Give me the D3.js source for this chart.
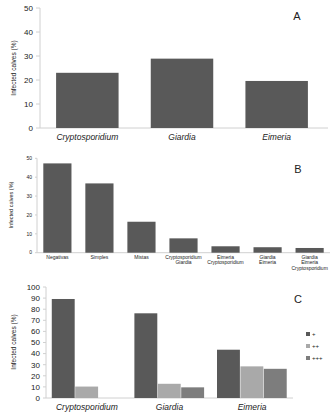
<!DOCTYPE html>
<html><head><meta charset="utf-8">
<script src="https://cdn.jsdelivr.net/npm/d3@7"></script>
<style>body{margin:0;background:#fff}svg{display:block}text{font-family:"Liberation Sans",Arial,sans-serif;fill:#222}</style>
</head><body><svg id="c" width="335" height="412"></svg>
<script>
// Panel A
const catsA = ["Cryptosporidium","Giardia","Eimeria"];
const valsA = [23.0, 28.9, 19.6];
const ticksA = [0,10,20,30,40,50];
// Panel B
const catsB = [["Negativas"],["Simples"],["Mistas"],["Cryptosporidium","Giardia"],["Eimeria","Cryptosporidium"],["Giardia","Eimeria"],["Giardia","Eimeria","Cryptosporidium"]];
const valsB = [47.3, 36.7, 16.4, 7.6, 3.4, 2.9, 2.5];
const ticksB = [0,10,20,30,40,50];
// Panel C
const catsC = ["Cryptosporidium","Giardia","Eimeria"];
const seriesC = ["+","++","+++"];
const plus1 = [89.2, 76.3, 43.5];
const plus2 = [10.3, 12.8, 28.5];
const plus3 = [0, 9.6, 26.3];
const ticksC = [0,10,20,30,40,50,60,70,80,90,100];
const yTitle = "Infected calves (%)";

const svg = d3.select("#c");
const axisCol = "#d0d0d0", dark = "#595959";
const colC = {"+":"#595959","++":"#a9a9a9","+++":"#7d7d7d"};

function yAxis(g, y, ticks, x0, fs, tickLen){
  g.append("line").attr("x1",x0).attr("x2",x0).attr("y1",y(ticks[ticks.length-1])).attr("y2",y(0)).attr("stroke",axisCol);
  ticks.forEach(t=>{
    g.append("line").attr("x1",x0-tickLen).attr("x2",x0).attr("y1",y(t)).attr("y2",y(t)).attr("stroke",axisCol);
    g.append("text").attr("x",x0-tickLen-3).attr("y",y(t)).attr("dy","0.35em").attr("text-anchor","end").attr("font-size",fs).text(t);
  });
}
function title(g,x,y,fs){
  g.append("text").attr("transform",`translate(${x},${y}) rotate(-90)`).attr("text-anchor","middle").attr("font-size",fs).text(yTitle);
}

// ---- A
{
  const g = svg.append("g");
  const x = d3.scaleBand().domain(catsA).range([40,324]).paddingInner(0.34).paddingOuter(0.17);
  const y = d3.scaleLinear().domain([0,50]).range([128,8]);
  g.append("line").attr("x1",40).attr("x2",328).attr("y1",y(0)).attr("y2",y(0)).attr("stroke",axisCol);
  yAxis(g,y,ticksA,40,8,4);
  g.selectAll("rect").data(valsA).join("rect").attr("x",(d,i)=>x(catsA[i])).attr("width",x.bandwidth())
    .attr("y",d=>y(d)).attr("height",d=>y(0)-y(d)).attr("fill",dark);
  catsA.forEach(c=>g.append("text").attr("x",x(c)+x.bandwidth()/2).attr("y",140).attr("text-anchor","middle").attr("font-size",8.5).attr("font-style","italic").text(c));
  title(g,16,68,6.5);
  g.append("text").attr("x",297).attr("y",20).attr("text-anchor","middle").attr("font-size",11).text("A");
}
// ---- B
{
  const g = svg.append("g");
  const keys = catsB.map(d=>d.join(" "));
  const x = d3.scaleBand().domain(keys).range([37,330]).paddingInner(0.33).paddingOuter(0.15);
  const y = d3.scaleLinear().domain([0,50]).range([252.7,158.3]);
  g.append("line").attr("x1",37).attr("x2",330).attr("y1",y(0)).attr("y2",y(0)).attr("stroke",axisCol);
  yAxis(g,y,ticksB,37,5,2);
  g.selectAll("rect").data(valsB).join("rect").attr("x",(d,i)=>x(keys[i])).attr("width",x.bandwidth())
    .attr("y",d=>y(d)).attr("height",d=>y(0)-y(d)).attr("fill",dark);
  catsB.forEach((c,i)=>{
    const t = g.append("text").attr("x",x(keys[i])+x.bandwidth()/2).attr("y",259).attr("text-anchor","middle").attr("font-size",5);
    c.forEach((l,j)=>t.append("tspan").attr("x",x(keys[i])+x.bandwidth()/2).attr("dy",j?5.3:0).text(l));
  });
  title(g,13,205,5.5);
  g.append("text").attr("x",298).attr("y",173).attr("text-anchor","middle").attr("font-size",11).text("B");
}
// ---- C
{
  const g = svg.append("g");
  const x0 = d3.scaleBand().domain(catsC).range([46,293]).paddingInner(0.15).paddingOuter(0.07);
  const x1 = d3.scaleBand().domain(seriesC).range([0,x0.bandwidth()]);
  const y = d3.scaleLinear().domain([0,100]).range([398,287]);
  g.append("line").attr("x1",46).attr("x2",293).attr("y1",y(0)).attr("y2",y(0)).attr("stroke",axisCol);
  yAxis(g,y,ticksC,46,8,3);
  const vals = {"+":plus1,"++":plus2,"+++":plus3};
  seriesC.forEach(s=>{
    g.append("g").selectAll("rect").data(vals[s]).join("rect")
      .attr("x",(d,i)=>x0(catsC[i])+x1(s)).attr("width",x1.bandwidth()-0.5)
      .attr("y",d=>y(d)).attr("height",d=>y(0)-y(d)).attr("fill",colC[s]);
  });
  catsC.forEach(c=>g.append("text").attr("x",x0(c)+x0.bandwidth()/2).attr("y",410).attr("text-anchor","middle").attr("font-size",8.5).attr("font-style","italic").text(c));
  title(g,16,342,6.5);
  g.append("text").attr("x",298).attr("y",303).attr("text-anchor","middle").attr("font-size",11).text("C");
  seriesC.forEach((s,i)=>{
    g.append("rect").attr("x",306).attr("y",332+i*12).attr("width",4).attr("height",4).attr("fill",colC[s]);
    g.append("text").attr("x",312).attr("y",334+i*12).attr("dy","0.35em").attr("font-size",6).text(s);
  });
}
</script></body></html>
